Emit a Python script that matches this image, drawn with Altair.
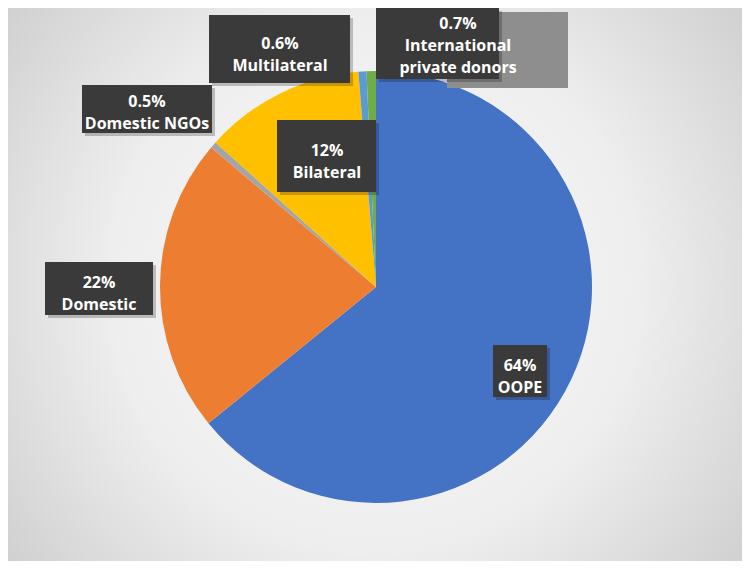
import altair as alt
import pandas as pd

# ---- data ----
categories = ["OOPE", "Domestic", "Domestic NGOs", "Bilateral", "Multilateral",
              "International private donors"]
values = [64, 22, 0.5, 12, 0.6, 0.7]
pct_labels = ["64%", "22%", "0.5%", "12%", "0.6%", "0.7%"]
name_labels = ["OOPE", "Domestic", "Domestic NGOs", "Bilateral", "Multilateral",
               "International\nprivate donors"]
colors = ["#4472C4", "#ED7D31", "#A5A5A5", "#FFC000", "#5B9BD5", "#70AD47"]

# ---- label layout (page pixels, manually placed callouts) ----
box_x1 = [493, 45, 82, 277, 209, 376]
box_x2 = [547, 153, 212, 376, 350, 499]
box_y1 = [345, 262, 85, 120, 15, 8]
box_y2 = [397, 315, 133, 192, 83, 79]
text_x = [520, 99, 147, 327, 280, 458]
pct_y = [366, 283, 102, 151, 44, 24]
name_y = [388, 305, 124, 173, 66, 46]
ghost_box = [447, 568, 12, 88]

W, H = 734, 553
PIE_CX, PIE_CY, PIE_R = 368, 279, 216

pie_df = pd.DataFrame({"category": categories, "value": values,
                       "idx": list(range(len(categories)))})
lab_df = pd.DataFrame({"x1": box_x1, "x2": box_x2, "y1": box_y1, "y2": box_y2,
                       "tx": text_x, "py": pct_y, "ny": name_y,
                       "pct": pct_labels, "name": name_labels})
ghost_df = pd.DataFrame({"x1": [ghost_box[0]], "x2": [ghost_box[1]],
                         "y1": [ghost_box[2]], "y2": [ghost_box[3]]})

xs = alt.Scale(domain=[8, 8 + W], range=[0, W], nice=False, zero=False)
ys = alt.Scale(domain=[8, 8 + H], range=[0, H], nice=False, zero=False)

bg = alt.Chart(pd.DataFrame({"a": [0]})).mark_rect(
    fill=alt.RadialGradient(
        gradient="radial",
        stops=[alt.GradientStop(offset=0, color="#fafafa"),
               alt.GradientStop(offset=0.5, color="#eeeeee"),
               alt.GradientStop(offset=1, color="#c6c6c6")],
        x1=0.5, y1=0.5, r1=0, x2=0.5, y2=0.5, r2=0.72),
).encode(x=alt.value(0), x2=alt.value(W), y=alt.value(0), y2=alt.value(H))

pie = alt.Chart(pie_df).mark_arc(outerRadius=PIE_R).encode(
    theta=alt.Theta("value:Q", stack=True),
    color=alt.Color("category:N", scale=alt.Scale(domain=categories, range=colors),
                    legend=None),
    order=alt.Order("idx:Q"),
    x=alt.value(PIE_CX), y=alt.value(PIE_CY),
)

ghost = alt.Chart(ghost_df).mark_rect(fill="#8e8e8e").encode(
    x=alt.X("x1:Q", scale=xs, axis=None), x2="x2:Q",
    y=alt.Y("y1:Q", scale=ys, axis=None), y2="y2:Q",
)

shadow = alt.Chart(lab_df).transform_calculate(
    sx1="datum.x1 + 3", sx2="datum.x2 + 3", sy1="datum.y1 + 3", sy2="datum.y2 + 3"
).mark_rect(fill="#000000", opacity=0.22).encode(
    x=alt.X("sx1:Q", scale=xs, axis=None), x2="sx2:Q",
    y=alt.Y("sy1:Q", scale=ys, axis=None), y2="sy2:Q",
)

boxes = alt.Chart(lab_df).mark_rect(fill="#3a3a3a").encode(
    x=alt.X("x1:Q", scale=xs, axis=None), x2="x2:Q",
    y=alt.Y("y1:Q", scale=ys, axis=None), y2="y2:Q",
)

pct_text = alt.Chart(lab_df).mark_text(
    font="Open Sans", fontWeight="bold", fontSize=16, color="white",
    align="center", baseline="middle",
).encode(
    x=alt.X("tx:Q", scale=xs, axis=None), y=alt.Y("py:Q", scale=ys, axis=None),
    text="pct:N",
)

name_text = alt.Chart(lab_df).mark_text(
    font="Open Sans", fontWeight="bold", fontSize=16, color="white",
    align="center", baseline="middle", lineBreak="\n", lineHeight=22,
).encode(
    x=alt.X("tx:Q", scale=xs, axis=None), y=alt.Y("ny:Q", scale=ys, axis=None),
    text="name:N",
)

chart = alt.layer(bg, pie, ghost, shadow, boxes, pct_text, name_text).properties(
    width=W, height=H, padding=0
).configure_view(stroke=None)

chart.save("out.html", embed_options={"renderer": "svg", "actions": False})
